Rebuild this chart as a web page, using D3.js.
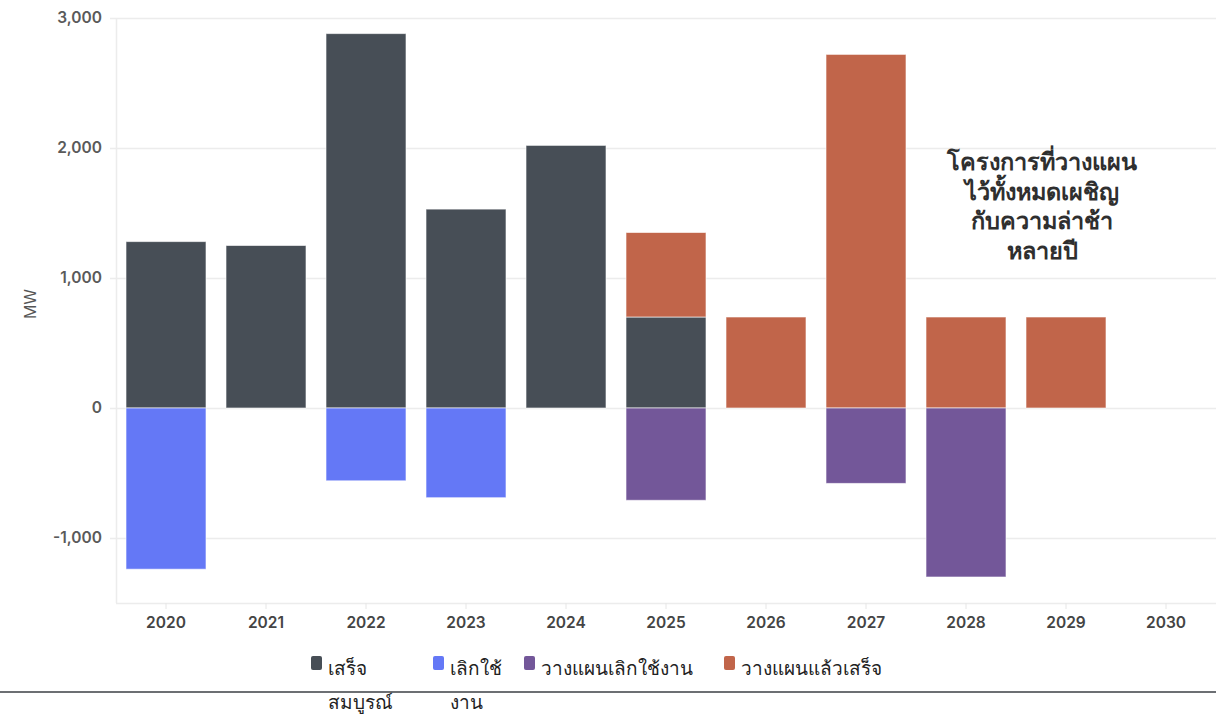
<!DOCTYPE html>
<html>
<head>
<meta charset="utf-8">
<script src="https://cdn.jsdelivr.net/npm/d3@7"></script>
<style>
    body { margin: 0; background: #fff; }
    svg { display: block; font-family: Inter, "Noto Sans", sans-serif; }
</style>
</head>
<body>
<div id="chart"></div>
<script>
// Years on the x axis
const years = [2020, 2021, 2022, 2023, 2024, 2025, 2026, 2027, 2028, 2029, 2030];

// MW per year
const completed       = [1280, 1250, 2880, 1530, 2020, 700, 0, 0, 0, 0, 0];
const retired         = [-1240, 0, -560, -690, 0, 0, 0, 0, 0, 0, 0];
const plannedRetire   = [0, 0, 0, 0, 0, -710, 0, -580, -1300, 0, 0];
const plannedComplete = [0, 0, 0, 0, 0, 650, 700, 2720, 700, 700, 0];

const yTicks = [-1000, 0, 1000, 2000, 3000];

const seriesNames = ["เสร็จสมบูรณ์", "เลิกใช้งาน", "วางแผนเลิกใช้งาน", "วางแผนแล้วเสร็จ"];
// how the legend wraps each label
const legendLines = [["เสร็จ", "สมบูรณ์"], ["เลิกใช้", "งาน"], ["วางแผนเลิกใช้งาน"], ["วางแผนแล้วเสร็จ"]];
const seriesColors = ["#474e56", "#6478f6", "#735799", "#c1654a"];

const annotationLines = ["โครงการที่วางแผน", "ไว้ทั้งหมดเผชิญ", "กับความล่าช้า", "หลายปี"];

const width = 1216, height = 718;
const margin = { top: 18, right: 0, bottom: 115, left: 116 };

const svg = d3.select("#chart").append("svg")
    .attr("width", width)
    .attr("height", height);

const x = d3.scaleBand()
    .domain(years)
    .range([margin.left, width - margin.right])
    .paddingInner(0.2)
    .paddingOuter(0.1);

const y = d3.scaleLinear()
    .domain([-1500, 3000])
    .range([height - margin.bottom, margin.top]);

// grid lines
svg.append("g")
    .selectAll("line")
    .data(yTicks)
    .join("line")
    .attr("x1", margin.left - 6)
    .attr("x2", width)
    .attr("y1", d => Math.round(y(d)) + 0.5)
    .attr("y2", d => Math.round(y(d)) + 0.5)
    .attr("stroke", "#ececec")
    .attr("stroke-width", 1.5);

// left axis line + bottom axis line
svg.append("line")
    .attr("x1", margin.left + 0.5).attr("x2", margin.left + 0.5)
    .attr("y1", y(3000)).attr("y2", y(-1500))
    .attr("stroke", "#ececec").attr("stroke-width", 1.5);
svg.append("line")
    .attr("x1", margin.left).attr("x2", width)
    .attr("y1", y(-1500) + 0.5).attr("y2", y(-1500) + 0.5)
    .attr("stroke", "#ececec").attr("stroke-width", 1.5);

// y labels
svg.append("g")
    .selectAll("text")
    .data(yTicks)
    .join("text")
    .attr("x", margin.left - 14)
    .attr("y", d => y(d))
    .attr("dy", "0.35em")
    .attr("text-anchor", "end")
    .attr("font-size", 15.5)
    .attr("font-weight", 600)
    .attr("fill", "#5a5a5a")
    .text(d => d3.format(",")(d).replace("−", "-"));

svg.append("text")
    .attr("transform", `translate(36,${y(800)}) rotate(-90)`)
    .attr("text-anchor", "middle")
    .attr("font-size", 16)
    .attr("fill", "#555")
    .text("MW");

// x ticks and labels
const xg = svg.append("g");
xg.selectAll("line")
    .data(years)
    .join("line")
    .attr("x1", d => x(d) + x.bandwidth() / 2)
    .attr("x2", d => x(d) + x.bandwidth() / 2)
    .attr("y1", y(-1500))
    .attr("y2", y(-1500) + 6)
    .attr("stroke", "#e6e6e6");
xg.selectAll("text")
    .data(years)
    .join("text")
    .attr("x", d => x(d) + x.bandwidth() / 2)
    .attr("y", y(-1500) + 20)
    .attr("dy", "0.35em")
    .attr("text-anchor", "middle")
    .attr("font-size", 15.5)
    .attr("font-weight", 600)
    .attr("fill", "#444")
    .text(d => d);

// bars: positive series stacked, negative ones hang below zero
const rows = years.map((yr, i) => ({
    year: yr,
    parts: [
        { s: 0, y0: 0, y1: completed[i] },
        { s: 3, y0: completed[i], y1: completed[i] + plannedComplete[i] },
        { s: 1, y0: 0, y1: retired[i] },
        { s: 2, y0: retired[i], y1: retired[i] + plannedRetire[i] }
    ].filter(p => p.y1 !== p.y0)
}));

svg.append("g")
    .selectAll("g")
    .data(rows)
    .join("g")
    .selectAll("rect")
    .data(d => d.parts.map(p => ({ ...p, year: d.year })))
    .join("rect")
    .attr("x", d => x(d.year))
    .attr("width", x.bandwidth())
    .attr("y", d => y(Math.max(d.y0, d.y1)))
    .attr("height", d => Math.abs(y(d.y0) - y(d.y1)))
    .attr("fill", d => seriesColors[d.s])
    .attr("stroke", "#fff")
    .attr("stroke-opacity", 0.6)
    .attr("stroke-width", 1);

// annotation
svg.append("text")
    .attr("x", 1042)
    .attr("y", 162)
    .attr("text-anchor", "middle")
    .attr("font-size", 23.5)
    .attr("font-weight", 700)
    .attr("fill", "#2f2f2f")
    .selectAll("tspan")
    .data(annotationLines)
    .join("tspan")
    .attr("x", 1042)
    .attr("dy", (d, i) => i === 0 ? "0.35em" : 29.5)
    .text(d => d);

// bottom rule
svg.append("line")
    .attr("x1", 0).attr("x2", width)
    .attr("y1", 692).attr("y2", 692)
    .attr("stroke", "#3b3f44")
    .attr("stroke-width", 1.5);

// legend
const legendX = [311, 433, 524, 724];
const leg = svg.append("g")
    .selectAll("g")
    .data(seriesNames)
    .join("g")
    .attr("transform", (d, i) => `translate(${legendX[i]},656)`);
leg.append("rect")
    .attr("width", 11).attr("height", 14)
    .attr("rx", 2)
    .attr("fill", (d, i) => seriesColors[i]);
leg.append("text")
    .attr("x", 17)
    .attr("y", 19)
    .attr("font-size", 19)
    .attr("fill", "#222")
    .selectAll("tspan")
    .data((d, i) => legendLines[i])
    .join("tspan")
    .attr("x", 17)
    .attr("dy", (d, i) => i === 0 ? 0 : 34)
    .text(d => d);
</script>
</body>
</html>
